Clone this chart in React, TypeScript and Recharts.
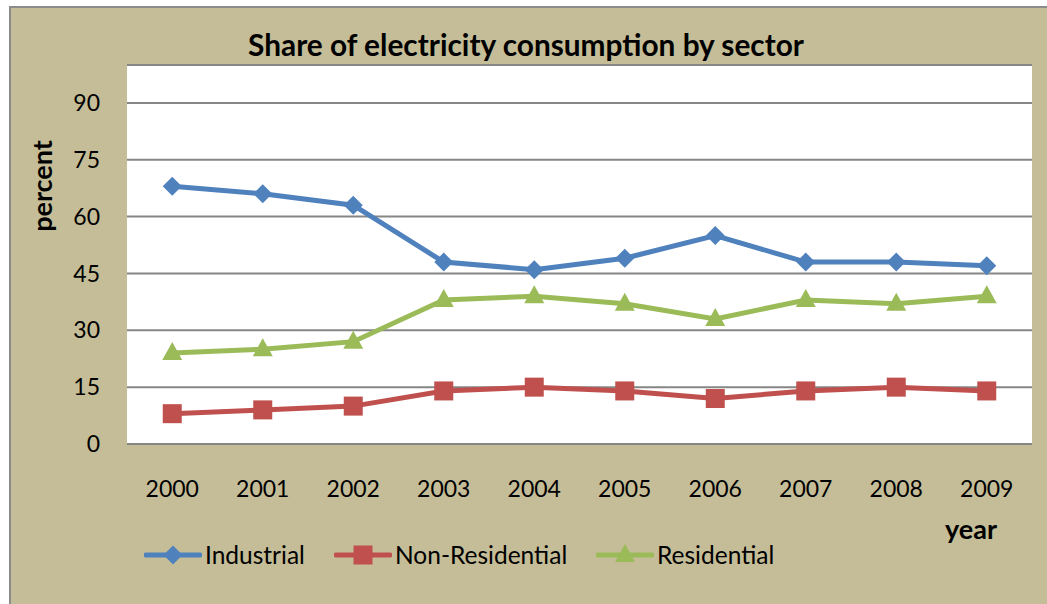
import React from "react";
import { LineChart, Line, XAxis, YAxis, CartesianGrid, Legend } from "recharts";

const years = ["2000", "2001", "2002", "2003", "2004", "2005", "2006", "2007", "2008", "2009"];
const industrial = [68, 66, 63, 48, 46, 49, 55, 48, 48, 47];
const nonResidential = [8, 9, 10, 14, 15, 14, 12, 14, 15, 14];
const residential = [24, 25, 27, 38, 39, 37, 33, 38, 37, 39];
const yTicks = [0, 15, 30, 45, 60, 75, 90];

const data = years.map((y, i) => ({
  year: y,
  Industrial: industrial[i],
  "Non-Residential": nonResidential[i],
  Residential: residential[i],
}));

const BLUE = "#4F81BD";
const RED = "#C0504D";
const GREEN = "#9BBB59";
const BG = "#C4BD97";
const FONT = "Lato, 'Open Sans', sans-serif";

const Diamond = (props: any) => {
  const { cx, cy } = props;
  if (cx == null || cy == null) return null;
  const r = 9.5;
  return <path d={`M${cx},${cy - r} L${cx + r},${cy} L${cx},${cy + r} L${cx - r},${cy} Z`} fill={BLUE} />;
};
const Square = (props: any) => {
  const { cx, cy } = props;
  if (cx == null || cy == null) return null;
  const r = 9.5;
  return <rect x={cx - r} y={cy - r} width={2 * r} height={2 * r} fill={RED} />;
};
const Triangle = (props: any) => {
  const { cx, cy } = props;
  if (cx == null || cy == null) return null;
  return <path d={`M${cx},${cy - 11} L${cx + 10},${cy + 7} L${cx - 10},${cy + 7} Z`} fill={GREEN} />;
};

const legendItems = [
  { name: "Industrial", color: BLUE, Marker: Diamond, w: 190 },
  { name: "Non-Residential", color: RED, Marker: Square, w: 262 },
  { name: "Residential", color: GREEN, Marker: Triangle, w: 200 },
];

const LegendContent = () => (
  <div style={{ display: "flex", alignItems: "center", fontFamily: FONT, fontSize: 24.5, color: "#000", whiteSpace: "nowrap" }}>
    {legendItems.map((it) => (
      <div key={it.name} style={{ display: "flex", alignItems: "center", width: it.w }}>
        <svg width={58} height={26}>
          <line x1={2} y1={13} x2={56} y2={13} stroke={it.color} strokeWidth={5} strokeLinecap="round" />
          <it.Marker cx={29} cy={13} />
        </svg>
        <span style={{ marginLeft: 3 }}>{it.name}</span>
      </div>
    ))}
  </div>
);

export default function App() {
  return (
    <div style={{ position: "absolute", left: 0, top: 0, width: 1047, height: 604, background: "#fff", overflow: "hidden" }}>
      <div
        style={{
          position: "absolute",
          left: 9,
          top: 6,
          width: 1038,
          height: 598,
          background: BG,
          borderTop: "2px solid #8C8C8C",
          borderLeft: "2px solid #8C8C8C",
        }}
      >
        <div style={{ position: "relative", width: 1036, height: 596 }}>
          <LineChart width={1036} height={596} data={data} margin={{ top: 57, right: 15, left: 36, bottom: 110 }}>
            <CartesianGrid vertical={false} stroke="#868686" strokeWidth={2} fill="#ffffff" />
            <XAxis
              dataKey="year"
              scale="band"
              height={50}
              tickLine={false}
              axisLine={{ stroke: "#868686", strokeWidth: 2 }}
              tickSize={0}
              tickMargin={37}
              tick={{ fill: "#000", fontSize: 23, fontFamily: FONT }}
              interval={0}
            />
            <YAxis
              domain={[0, 100]}
              ticks={yTicks}
              width={80}
              axisLine={false}
              tickLine={false}
              tickSize={0}
              tickMargin={27}
              tick={{ fill: "#000", fontSize: 23, fontFamily: FONT }}
            />
            <Legend
              layout="horizontal"
              verticalAlign="middle"
              align="center"
              wrapperStyle={{ position: "absolute", top: 532, left: 133, width: "auto" }}
              content={<LegendContent />}
            />
            <Line dataKey="Industrial" stroke={BLUE} strokeWidth={5} dot={<Diamond />} activeDot={false} isAnimationActive={false} />
            <Line dataKey="Non-Residential" stroke={RED} strokeWidth={5} dot={<Square />} activeDot={false} isAnimationActive={false} />
            <Line dataKey="Residential" stroke={GREEN} strokeWidth={5} dot={<Triangle />} activeDot={false} isAnimationActive={false} />
          </LineChart>
          <div
            style={{
              position: "absolute",
              left: 0,
              width: 1030,
              top: 22,
              textAlign: "center",
              fontFamily: FONT,
              fontWeight: 700,
              fontSize: 29.8,
              lineHeight: 1,
              color: "#000",
              whiteSpace: "nowrap",
            }}
          >
            Share of electricity consumption by sector
          </div>
          <div
            style={{
              position: "absolute",
              left: 30,
              top: 178,
              transform: "translate(-50%, -50%) rotate(-90deg)",
              fontFamily: FONT,
              fontWeight: 700,
              fontSize: 27,
              lineHeight: 1,
              color: "#000",
              whiteSpace: "nowrap",
            }}
          >
            percent
          </div>
          <div
            style={{
              position: "absolute",
              left: 934,
              top: 507,
              fontFamily: FONT,
              fontWeight: 700,
              fontSize: 27,
              lineHeight: 1,
              color: "#000",
            }}
          >
            year
          </div>
        </div>
      </div>
    </div>
  );
}
